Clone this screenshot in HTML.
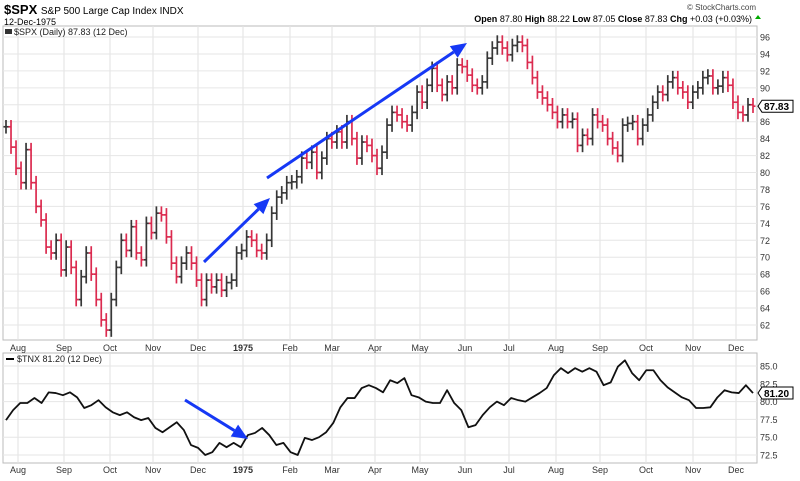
<!DOCTYPE html>
<html><head><meta charset="utf-8"><style>
body{margin:0;background:#fff;font-family:"Liberation Sans",sans-serif}
svg text{font-family:"Liberation Sans",sans-serif}
</style></head><body>
<svg id="c" width="800" height="476" viewBox="0 0 800 476" xmlns="http://www.w3.org/2000/svg">
<text x="4" y="14" font-size="13" font-weight="bold">$SPX <tspan font-size="10" font-weight="normal">S&amp;P 500 Large Cap Index  INDX</tspan></text>
<text x="4" y="25" font-size="9">12-Dec-1975</text>
<text x="756" y="10" font-size="8" fill="#444" text-anchor="end">© StockCharts.com</text>
<text x="752" y="22" font-size="9" text-anchor="end"><tspan font-weight="bold">Open</tspan> 87.80  <tspan font-weight="bold">High</tspan> 88.22  <tspan font-weight="bold">Low</tspan> 87.05  <tspan font-weight="bold">Close</tspan> 87.83  <tspan font-weight="bold">Chg</tspan> +0.03 (+0.03%)</text>
<polygon points="755,19 761,19 758,15" fill="#0a0"/>
<g id="main"></g><g id="sub"></g>
</svg>
<script>
const monthLabels=["Aug","Sep","Oct","Nov","Dec","1975","Feb","Mar","Apr","May","Jun","Jul","Aug","Sep","Oct","Nov","Dec"];
const monthX=[18,64,110,153,198,243,290,332,375,420,465,509,556,600,646,693,736];
const priceTicks=[62,64,66,68,70,72,74,76,78,80,82,84,86,88,90,92,94,96];
const tnxTicks=[72.5,75.0,77.5,80.0,82.5,85.0];
const spxCloses=[85.4,83,80.5,78.8,82.7,78.8,76,74.4,71.2,70.5,72,68.5,71.2,68.8,65,67.7,70.5,68,65,62.6,61.4,65,68.8,72,70.8,73.6,70.5,69.7,74,72.9,75.2,75,72.4,69.3,67.7,69.3,70.5,69.3,67.3,65,67.3,66.5,67.3,66.1,67,67.3,70.5,70.8,72.4,72,70.8,70.5,72,75.2,77.1,77.6,78.8,
78.9,79.5,81.7,81.2,82.4,80,81.7,84,83.6,84.8,83.6,86,84,81.7,83.6,83.2,82,80.5,82.4,85.6,87.1,86.8,86,85.6,87.1,89.5,88.3,90.3,92.3,90.3,89.2,90.7,90,92.7,92.5,91.5,90.3,90,90.7,93.5,94.7,95.4,94.7,93.9,95,95.4,95,93,91.2,89.5,88.8,88,
87.1,86,86.8,86,86.3,83.2,84.4,84,86.8,86,85.6,84,82.9,82,85.6,85.8,86,84,85.6,86.8,88.3,89.5,89.2,90.7,91.2,90,89.5,88.3,89.5,90,91.2,91.4,90,90.2,91.2,90.3,88.3,87.1,86.8,88,87.83];
const tnxValues=[77.4,78.8,79.8,79.8,80.5,79.8,81.3,81.2,80.9,81.3,80.6,79.1,79.5,80.2,79.2,78.5,78.1,78.5,77.8,77.4,77.7,76.3,75.7,76.4,77.1,76,73.9,73.5,72.5,72.9,74.2,73.6,74.2,73.6,75.3,75.6,76.3,75.3,73.9,
74.2,72.9,72.5,74.9,74.6,75,75.7,77,79.2,80.5,80.5,81.9,82.3,81.9,81.3,83,82.6,83.3,80.9,80.6,80,79.8,79.8,81.6,79.8,78.8,76.4,76.7,78.1,79.2,80,79.5,80.5,80.2,80,80.6,81.2,81.9,83.7,84.7,84,84.7,84.2,84.7,84.2,82.3,
82.7,84.9,85.8,84,83,84.4,84.4,83,82,81.3,80.6,80.2,79.1,79.1,79.2,80.6,81.6,81.3,81.2,82.3,81.2];
const NS='http://www.w3.org/2000/svg';
function mk(p,t,a){const e=document.createElementNS(NS,t);for(const k in a)e.setAttribute(k,a[k]);p.appendChild(e);return e;}
const L=3,R=757,M={t:26,b:340},S={t:353,b:463};
const yP=v=>37+(96-v)*8.47;
const yT=v=>366+(85-v)*7.12;
const xI=(i,n)=>6+i*(753-6)/(n-1);
const main=document.getElementById('main'),sub=document.getElementById('sub');
function panel(g,p,name){
  const r=mk(g,'rect',{x:L,y:p.t,width:R-L,height:p.b-p.t,fill:'#fff',stroke:'#bbb'});
  
  
  monthX.forEach(x=>{const l=mk(g,'line',{x1:x,x2:x,y1:p.t,y2:p.b,stroke:'#e2e2e2'});
    
    });
}
panel(main,M,'price-panel');
priceTicks.forEach(v=>{const y=yP(v);
  const l=mk(main,'line',{x1:L,x2:R,y1:y,y2:y,stroke:'#e6e6e6'});
  
  
  const t=mk(main,'text',{x:760,y:y+3.5,'font-size':9,fill:'#333'});t.textContent=v;
  
  });
let lg=mk(main,'text',{x:14,y:35,'font-size':9,fill:'#222'});lg.textContent='$SPX (Daily) 87.83 (12 Dec)';


mk(main,'rect',{x:5,y:29,width:7,height:5,fill:'#333'});
const n=spxCloses.length;
spxCloses.forEach((c,i)=>{const o=i?spxCloses[i-1]:c;const x=xI(i,n);
  const hi=Math.max(o,c)+0.8,lo=Math.min(o,c)-0.8;const col=c>=o?'#222':'#d8143c';
  const g=mk(main,'g',{stroke:col,'stroke-width':1.7,opacity:0.9});
  
  
  mk(g,'line',{x1:x,x2:x,y1:yP(hi),y2:yP(lo)});
  mk(g,'line',{x1:x-2.5,x2:x,y1:yP(o),y2:yP(o)});
  mk(g,'line',{x1:x,x2:x+2.5,y1:yP(c),y2:yP(c)});});
function tag(g,y,txt,name){const gg=mk(g,'g',{});
  
  
  mk(gg,'polygon',{points:`${R+1},${y} ${R+5},${y-6} ${R+36},${y-6} ${R+36},${y+6} ${R+5},${y+6}`,fill:'#fff',stroke:'#000'});
  const t=mk(gg,'text',{x:R+7,y:y+4,'font-size':10,'font-weight':'bold'});t.textContent=txt;}
tag(main,yP(spxCloses[n-1]),'87.83','price-last-value-tag');
function xlabels(y){monthLabels.forEach((m,i)=>{const t=mk(document.getElementById('c'),'text',{x:monthX[i],y:y,'font-size':9,'text-anchor':'middle',fill:'#333','font-weight':m==='1975'?'bold':'normal'});t.textContent=m;
  
  });}
xlabels(351);
panel(sub,S,'tnx-panel');
tnxTicks.forEach(v=>{const y=yT(v);
  const l=mk(sub,'line',{x1:L,x2:R,y1:y,y2:y,stroke:'#e6e6e6'});
  
  
  const t=mk(sub,'text',{x:760,y:y+3.5,'font-size':9,fill:'#333'});t.textContent=v.toFixed(1);
  
  });
lg=mk(sub,'text',{x:17,y:362,'font-size':9,fill:'#222'});lg.textContent='$TNX 81.20 (12 Dec)';


mk(sub,'line',{x1:6,x2:14,y1:359,y2:359,stroke:'#000','stroke-width':2});
const m=tnxValues.length;
const pl=mk(sub,'polyline',{points:tnxValues.map((v,i)=>xI(i,m)+','+yT(v)).join(' '),fill:'none',stroke:'#111','stroke-width':1.8,'stroke-linejoin':'round'});


tag(sub,yT(tnxValues[m-1]),'81.20','tnx-last-value-tag');
xlabels(473);
function arrow(x1,y1,x2,y2,name){const g=mk(document.getElementById('c'),'g',{});
  
  
  const a=Math.atan2(y2-y1,x2-x1),h=16,w=7;
  const bx=x2-h*Math.cos(a),by=y2-h*Math.sin(a);
  mk(g,'line',{x1,y1,x2:bx,y2:by,stroke:'#1638f5','stroke-width':3});
  mk(g,'polygon',{points:`${x2},${y2} ${bx+w*Math.sin(a)},${by-w*Math.cos(a)} ${bx-w*Math.sin(a)},${by+w*Math.cos(a)}`,fill:'#1638f5'});}
arrow(204,262,270,198,'trend-arrow-short');
arrow(267,178,467,43,'trend-arrow-long');
arrow(185,400,248,439,'tnx-down-arrow');
</script>
</body></html>
